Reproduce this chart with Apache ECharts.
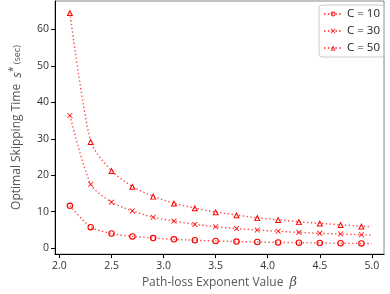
<!DOCTYPE html>
<html><head><meta charset="utf-8">
<script src="https://cdn.jsdelivr.net/npm/echarts@6/dist/echarts.min.js"></script>
<style>html,body{margin:0;padding:0;background:#fff}#c{width:390px;height:294px}</style>
</head><body><div id="c"></div>
<script>
const betas = [2.1,2.3,2.5,2.7,2.9,3.1,3.3,3.5,3.7,3.9,4.1,4.3,4.5,4.7,4.9,5.0];
const c10 = [11.6,5.75,4.0,3.2,2.76,2.4,2.15,1.95,1.8,1.67,1.56,1.47,1.4,1.33,1.27,1.24];
const c30 = [36.4,17.5,12.6,10.2,8.45,7.4,6.5,5.85,5.35,4.95,4.6,4.3,4.05,3.85,3.65,3.58];
const c50 = [64.6,29.2,21.2,16.9,14.2,12.3,11.0,9.9,9.1,8.3,7.8,7.2,6.8,6.4,6.0,5.85];
const xTicks = [2.0,2.5,3.0,3.5,4.0,4.5,5.0];
const yTicks = [0,10,20,30,40,50,60];
const names = ['C = 10','C = 30','C = 50'];

const ringPath = 'path://M5,0A5,5 0 1 1 5,10A5,5 0 1 1 5,0ZM5,1.7A3.3,3.3 0 1 0 5,8.3A3.3,3.3 0 1 0 5,1.7Z';
const xPath = 'path://M0,1L1,0L5,4L9,0L10,1L6,5L10,9L9,10L5,6L1,10L0,9L4,5Z';
const triPath = 'path://M5,0L10,9.5L0,9.5ZM5,3.2L2.5,8.1L7.5,8.1Z';
const symbols = [ringPath, xPath, triPath];
const sizes = [[6.5,6.5], [5.5,5.5], [6.5,6.5]];
const FONT = '"Open Sans", "DejaVu Sans", sans-serif';

function mk(vals, i){
  return {
    name: names[i], type: 'line', smooth: 0.25,
    symbol: symbols[i], symbolSize: sizes[i],
    color: '#ff0000',
    lineStyle: {color:'#ff2020', width:1.4, type:[1.4,2.4], opacity:0.8},
    itemStyle: {color:'#ff0000', borderWidth:0},
    data: betas.map((b,k)=> k===betas.length-1 ? {value:[b, vals[k]], symbol:'none'} : [b, vals[k]]),
    z: 3
  };
}

const chart = echarts.init(document.getElementById('c'));
chart.setOption({
  animation:false,
  textStyle:{fontFamily:FONT},
  grid:{left:42.7, right:6, top:1, bottom:37.5, show:true, borderColor:'#888', borderWidth:1},
  legend:{
    orient:'vertical', right:6, top:5, data:names,
    itemWidth:18, itemHeight:6, itemGap:5,
    borderColor:'#ccc', borderWidth:1, borderRadius:3, padding:[3,4,3,4],
    textStyle:{fontFamily:FONT, fontSize:11.5, color:'#222'}
  },
  xAxis:{
    type:'value', min:1.957, max:5.117,
    name:'Path-loss Exponent Value  {b|β}', nameLocation:'middle', nameGap:17,
    nameTextStyle:{fontFamily:FONT, fontSize:12, color:'#555', rich:{b:{fontStyle:'italic', fontSize:13, color:'#555', fontFamily:'"DejaVu Serif", serif'}}},
    axisLine:{show:true, onZero:false, lineStyle:{color:'#000', width:1}},
    axisTick:{show:true, length:4, customValues:xTicks, lineStyle:{color:'#000'}},
    axisLabel:{customValues:xTicks, formatter:v=>v.toFixed(1), fontSize:10.5, color:'#333', margin:6},
    splitLine:{show:false}
  },
  yAxis:{
    type:'value', min:-1.65, max:67.8,
    name:'Optimal Skipping Time  {s|s}{sup|*}{u| (sec)}', nameLocation:'middle', nameGap:29, nameRotate:90,
    nameTextStyle:{fontFamily:FONT, fontSize:12, color:'#555', rich:{
      s:{fontStyle:'italic', fontSize:13, color:'#555', fontFamily:FONT},
      sup:{fontSize:10, color:'#555', verticalAlign:'bottom', padding:[0,0,8,0], fontFamily:FONT},
      u:{fontSize:9, color:'#555', fontFamily:FONT}
    }},
    axisLine:{show:true, onZero:false, lineStyle:{color:'#000', width:1}},
    axisTick:{show:true, length:4, customValues:yTicks, lineStyle:{color:'#000'}},
    axisLabel:{customValues:yTicks, fontSize:10.5, color:'#333', margin:6},
    splitLine:{show:false}
  },
  series:[mk(c10,0), mk(c30,1), mk(c50,2)]
});
</script></body></html>
